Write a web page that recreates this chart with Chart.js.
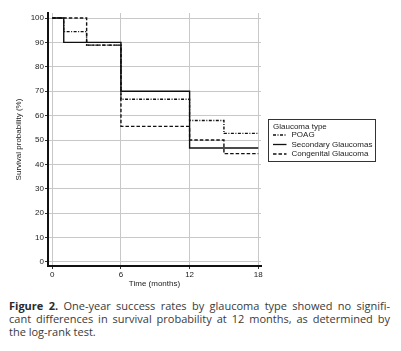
<!DOCTYPE html>
<html>
<head>
<meta charset="utf-8">
<script src="https://cdn.jsdelivr.net/npm/chart.js@4"></script>
<style>
  body { margin: 0; background: #fff; width: 401px; height: 351px; overflow: hidden; }
  #wrap { position: relative; width: 401px; height: 290px; }
  #caption {
    margin: 9px 11px 0 9px;
    font-family: "Open Sans", "Noto Sans", sans-serif;
    font-size: 11px;
    line-height: 13px;
    color: #3a3a3a;
  }
  #caption div.j { text-align: justify; text-align-last: justify; }
  #caption b { color: #2a2a2a; }
</style>
</head>
<body>
<div id="wrap"><canvas id="km" width="401" height="290"></canvas></div>
<div id="caption">
  <div class="j"><b>Figure 2.</b> One-year success rates by glaucoma type showed no signifi-</div>
  <div class="j">cant differences in survival probability at 12 months, as determined by</div>
  <div>the log-rank test.</div>
</div>

<script>
// Kaplan-Meier steps: time where the curve changes, survival (%) after that time
const poagTimes = [0, 1, 3, 6, 12, 15, 18];
const poagSurv = [100, 94.4, 88.9, 66.7, 58.0, 52.7, 52.7];

const secTimes = [0, 1, 6, 12, 18];
const secSurv = [100, 90, 70, 46.7, 46.7];

const congTimes = [0, 3, 6, 12, 15, 18];
const congSurv = [100, 88.9, 55.6, 50, 44.4, 44.4];

const groupNames = ["POAG", "Secondary Glaucomas", "Congenital Glaucoma"];
const xTicks = [0, 6, 12, 18];
const yTicks = [0, 10, 20, 30, 40, 50, 60, 70, 80, 90, 100];

const toPoints = (t, s) => t.map((x, i) => ({ x: x, y: s[i] }));

// boxed legend drawn beside the plot
const boxLegend = {
  id: "boxLegend",
  afterDraw(chart) {
    const ctx = chart.ctx;
    const x0 = 268.5, y0 = 119.5, w = 107, h = 42;
    ctx.save();
    ctx.strokeStyle = "#333";
    ctx.lineWidth = 1;
    ctx.setLineDash([]);
    ctx.strokeRect(x0, y0, w, h);
    ctx.fillStyle = "#222";
    ctx.font = "8px 'Liberation Sans', Arial, sans-serif";
    ctx.textBaseline = "middle";
    ctx.fillText("Glaucoma type", x0 + 4.5, y0 + 7);
    chart.data.datasets.forEach((ds, i) => {
      const yy = y0 + 15.5 + i * 9.5;
      ctx.strokeStyle = "#111";
      ctx.lineWidth = 1.3;
      ctx.setLineDash(ds.borderDash || []);
      ctx.beginPath();
      ctx.moveTo(x0 + 4.5, yy);
      ctx.lineTo(x0 + 18, yy);
      ctx.stroke();
      ctx.fillText(ds.label, x0 + 23, yy);
    });
    ctx.restore();
  }
};

new Chart(document.getElementById("km"), {
  type: "line",
  data: {
    datasets: [
      { label: groupNames[0], data: toPoints(poagTimes, poagSurv), borderDash: [3, 1.5, 1, 1.5] },
      { label: groupNames[1], data: toPoints(secTimes, secSurv), borderDash: [] },
      { label: groupNames[2], data: toPoints(congTimes, congSurv), borderDash: [3.5, 2] }
    ].map(d => Object.assign(d, {
      stepped: "before",
      borderColor: "#111",
      borderWidth: 1.4,
      pointRadius: 0,
      fill: false
    }))
  },
  options: {
    responsive: false,
    animation: false,
    layout: { padding: { top: 13, right: 140, left: 0, bottom: 0 } },
    plugins: {
      legend: { display: false },
      tooltip: { enabled: false }
    },
    scales: {
      x: {
        type: "linear",
        min: -0.376,
        max: 18.24,
        afterBuildTicks: s => { s.ticks = xTicks.map(v => ({ value: v })); },
        afterFit: s => { s.height = 24; },
        grid: { color: "#c8c8c8", lineWidth: 1, tickLength: 3, tickColor: "#333" },
        border: { color: "#111", width: 2 },
        ticks: {
          color: "#222",
          padding: 1,
          maxRotation: 0,
          font: { family: "'Liberation Sans', Arial, sans-serif", size: 8 }
        },
        title: {
          display: true,
          text: "Time (months)",
          color: "#222",
          padding: { top: 0, bottom: 1 },
          font: { family: "'Liberation Sans', Arial, sans-serif", size: 8 }
        }
      },
      y: {
        type: "linear",
        min: -1.64,
        max: 102.05,
        afterBuildTicks: s => { s.ticks = yTicks.map(v => ({ value: v })); },
        afterFit: s => { s.width = 48; },
        grid: { color: "#c8c8c8", lineWidth: 1, tickLength: 3, tickColor: "#333" },
        border: { color: "#111", width: 2 },
        ticks: {
          color: "#222",
          padding: 1,
          font: { family: "'Liberation Sans', Arial, sans-serif", size: 8 }
        },
        title: {
          display: true,
          text: "Survival probability (%)",
          color: "#222",
          padding: { top: 14, bottom: 0 },
          font: { family: "'Liberation Sans', Arial, sans-serif", size: 8 }
        }
      }
    }
  },
  plugins: [boxLegend]
});
</script>
</body>
</html>
